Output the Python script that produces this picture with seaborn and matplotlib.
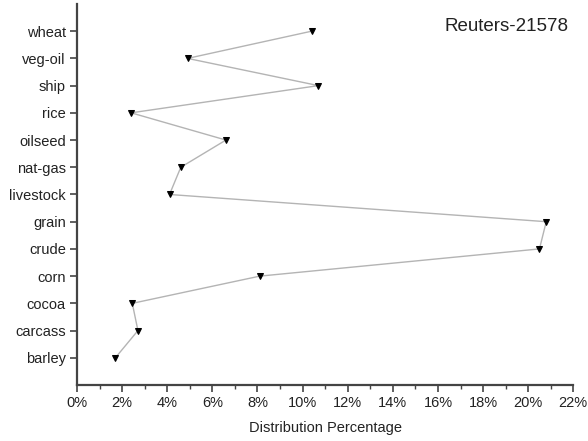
import matplotlib
matplotlib.use("Agg")
import matplotlib.pyplot as plt
from matplotlib.ticker import MultipleLocator, FuncFormatter
import pandas as pd
import seaborn as sns

# categories listed bottom -> top
categories = ["barley", "carcass", "cocoa", "corn", "crude", "grain", "livestock",
              "nat-gas", "oilseed", "rice", "ship", "veg-oil", "wheat"]
distribution = [1.7, 2.7, 2.45, 8.1, 20.5, 20.8, 4.1, 4.6, 6.6, 2.4, 10.7, 4.9, 10.4]

sns.set_theme(style="ticks")
plt.rcParams["font.family"] = ["Liberation Sans", "DejaVu Sans"]

df = pd.DataFrame({"category": categories, "pct": distribution,
                   "pos": range(len(categories))})

fig, ax = plt.subplots(figsize=(5.88, 4.41), dpi=100)
fig.subplots_adjust(left=0.131, right=0.975, top=0.991, bottom=0.127)

sns.lineplot(data=df, x="pct", y="pos", sort=False, estimator=None, ax=ax,
             color="#b4b4b4", linewidth=1.0, marker="v", markersize=4.5,
             markerfacecolor="black", markeredgecolor="black")

ax.set_xlim(0, 22)
ax.set_ylim(-1, len(categories))
ax.set_yticks(df["pos"])
ax.set_yticklabels(df["category"])
ax.xaxis.set_major_locator(MultipleLocator(2))
ax.xaxis.set_minor_locator(MultipleLocator(1))
ax.xaxis.set_major_formatter(FuncFormatter(lambda v, _: f"{v:.0f}%"))

for side in ["top", "right"]:
    ax.spines[side].set_visible(False)
for side in ["left", "bottom"]:
    ax.spines[side].set_color("#444444")
    ax.spines[side].set_linewidth(1.6)
ax.tick_params(axis="both", which="major", direction="out", length=5, width=1.2,
               color="#444444", labelsize=10.5, labelcolor="#222222", pad=3)
ax.tick_params(axis="x", which="minor", direction="out", length=3, width=1.0,
               color="#444444")

ax.set_xlabel("Distribution Percentage", fontsize=10.5, color="#222222", labelpad=8)
ax.set_ylabel("")
ax.text(0.99, 0.94, "Reuters-21578", transform=ax.transAxes, ha="right",
        va="center", fontsize=13.5, color="#222222")

fig.savefig("out.png", dpi=100)
